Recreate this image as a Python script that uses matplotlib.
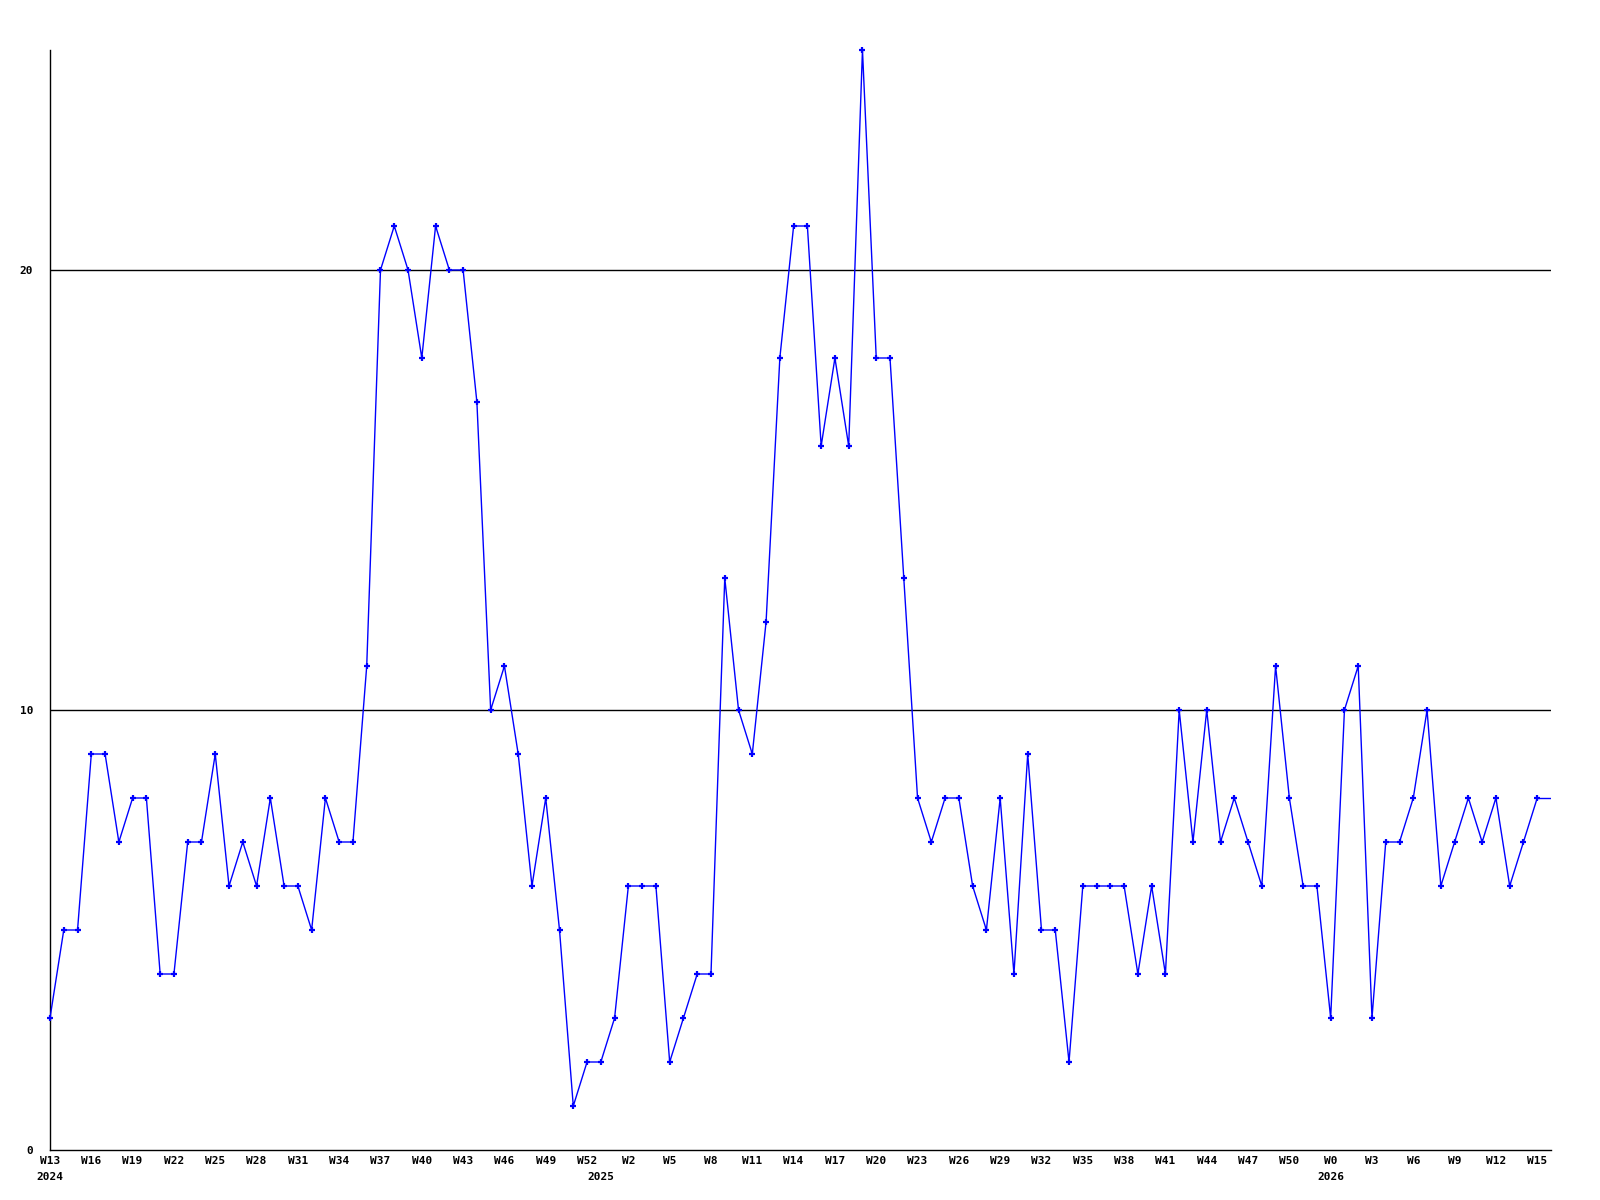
import matplotlib
matplotlib.use('Agg')
import matplotlib.pyplot as plt

# weekly counts, W13 2024 .. W15 2026 (last value is the running week, no marker)
values = [3, 5, 5, 9, 9, 7, 8, 8, 4, 4,
          7, 7, 9, 6, 7, 6, 8, 6, 6, 5,
          8, 7, 7, 11, 20, 21, 20, 18, 21, 20,
          20, 17, 10, 11, 9, 6, 8, 5, 1, 2,
          2, 3, 6, 6, 6, 2, 3, 4, 4, 13,
          10, 9, 12, 18, 21, 21, 16, 18, 16, 25,
          18, 18, 13, 8, 7, 8, 8, 6, 5, 8,
          4, 9, 5, 5, 2, 6, 6, 6, 6, 4,
          6, 4, 10, 7, 10, 7, 8, 7, 6, 11,
          8, 6, 6, 3, 10, 11, 3, 7, 7, 8,
          10, 6, 7, 8, 7, 8, 6, 7, 8]
current = 8

tick_labels = ['W13', 'W16', 'W19', 'W22', 'W25', 'W28', 'W31', 'W34', 'W37',
               'W40', 'W43', 'W46', 'W49', 'W52', 'W2', 'W5', 'W8', 'W11',
               'W14', 'W17', 'W20', 'W23', 'W26', 'W29', 'W32', 'W35', 'W38',
               'W41', 'W44', 'W47', 'W50', 'W0', 'W3', 'W6', 'W9', 'W12', 'W15']
years = ['2024', '2025', '2026']
year_pos = [0, 40, 93]

x = list(range(len(values)))
n = len(values)

fig = plt.figure(figsize=(16, 12), dpi=100)
ax = fig.add_axes([50/1600, 50/1200, 1501/1600, 1100/1200])

ax.plot([n - 1, n], [values[-1], current], color='#0000ff', lw=1)
ax.plot(x, values, color='#0000ff', lw=1, marker='+', ms=4, mew=1.6,
        clip_on=False, zorder=3)

ax.set_xlim(0, n)
ax.set_ylim(0, 25)
ax.set_yticks([0, 10, 20])
ax.set_yticklabels(['0', '10', '20'])
ax.set_xticks(list(range(0, n, 3)))
ax.set_xticklabels(tick_labels)

font = dict(family='DejaVu Sans Mono', weight='bold', size=8)
for lab in ax.get_xticklabels() + ax.get_yticklabels():
    lab.set_fontproperties(matplotlib.font_manager.FontProperties(**font))
ax.tick_params(axis='x', length=0, pad=4)
ax.tick_params(axis='y', length=0, pad=12)

for yv in [10, 20]:
    ax.axhline(yv, color='black', lw=1, zorder=1)

for yr, p in zip(years, year_pos):
    ax.annotate(yr, xy=(p, 0), xycoords=('data', 'axes fraction'),
                xytext=(0, -19.5), textcoords='offset points',
                ha='center', va='center', **font)

for s in ['top', 'right']:
    ax.spines[s].set_visible(False)
ax.spines['left'].set_linewidth(1)
ax.spines['bottom'].set_linewidth(1)

fig.savefig('out.png', dpi=100)
plt.close()
